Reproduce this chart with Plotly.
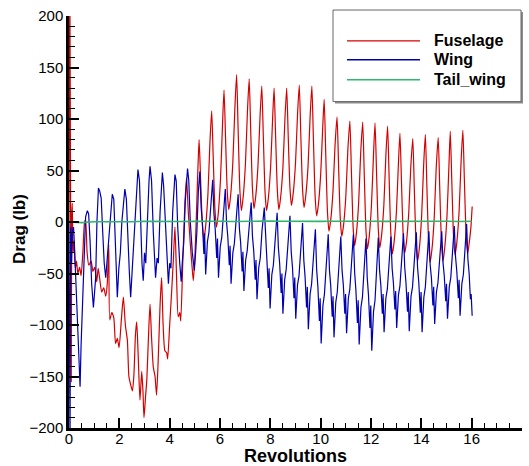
import plotly.graph_objects as go

# ---------------- data ----------------
fuselage_points = [
    (0.00, 0), (0.03, 250), (0.06, 40), (0.09, -155), (0.11, 5), (0.13, 18), (0.16, -30),
    (0.20, -18), (0.25, -45), (0.30, -38), (0.35, -50), (0.42, -44), (0.48, -52), (0.55, -30),
    (0.62, 0), (0.66, 2), (0.72, -30), (0.79, -42), (0.88, -38), (0.95, -48), (1.02, -44),
    (1.10, -58), (1.16, -45), (1.22, -55), (1.30, -68), (1.38, -64), (1.46, -72), (1.52, -60),
    (1.58, -22), (1.62, -95), (1.70, -88), (1.78, -93), (1.85, -118), (1.92, -113), (1.99, -122),
    (2.08, -95), (2.16, -73), (2.24, -100), (2.32, -115), (2.38, -150), (2.45, -158), (2.52, -164),
    (2.58, -148), (2.64, -110), (2.69, -97), (2.75, -130), (2.82, -173), (2.89, -145), (2.94, -165),
    (2.98, -190), (3.04, -170), (3.09, -154), (3.16, -110), (3.22, -80), (3.28, -112), (3.35, -141),
    (3.42, -150), (3.48, -168), (3.55, -130), (3.62, -80), (3.68, -54), (3.74, -100), (3.81, -125),
    (3.88, -127), (3.92, -133), (4.00, -100), (4.08, -67), (4.15, -35), (4.21, -5), (4.27, -50),
    (4.34, -92), (4.40, -88), (4.44, -96), (4.52, -40), (4.60, 15), (4.67, 43), (4.74, 10),
    (4.81, -18), (4.88, -40), (4.94, -57), (5.00, -35), (5.06, 5), (5.12, 50),
    (5.17, 80), (5.23, 41), (5.30, -2), (5.36, -17), (5.43, -4), (5.52, 27), (5.60, 77),
    (5.67, 108), (5.73, 63), (5.80, 12), (5.86, -5), (5.93, 8), (6.02, 42), (6.10, 95),
    (6.16, 128), (6.22, 82), (6.29, 29), (6.35, 12), (6.42, 25), (6.51, 58), (6.59, 110),
    (6.66, 143), (6.72, 90), (6.79, 31), (6.85, 11), (6.92, 24), (7.01, 56), (7.09, 107),
    (7.16, 139), (7.22, 89), (7.29, 32), (7.35, 13), (7.42, 25), (7.51, 55), (7.59, 102),
    (7.66, 132), (7.72, 84), (7.79, 29), (7.85, 11), (7.92, 23), (8.01, 53), (8.09, 100),
    (8.15, 130), (8.21, 83), (8.28, 30), (8.34, 12), (8.41, 24), (8.50, 53), (8.58, 100),
    (8.65, 130), (8.71, 84), (8.78, 33), (8.84, 16), (8.91, 28), (9.00, 57), (9.08, 104),
    (9.15, 133), (9.21, 85), (9.28, 32), (9.34, 14), (9.41, 26), (9.50, 55), (9.58, 102),
    (9.65, 132), (9.71, 82), (9.78, 25), (9.84, 6), (9.91, 17), (10.00, 46), (10.08, 91),
    (10.14, 119), (10.20, 68), (10.27, 10), (10.33, -9), (10.40, 2), (10.49, 30), (10.57, 74),
    (10.65, 102), (10.71, 56), (10.78, 3), (10.84, -14), (10.91, -3), (11.00, 25), (11.08, 70),
    (11.16, 98), (11.22, 50), (11.29, -5), (11.35, -23), (11.42, -11), (11.51, 19), (11.59, 67),
    (11.67, 97), (11.73, 48), (11.80, -8), (11.86, -26), (11.93, -14), (12.02, 17), (12.10, 66),
    (12.16, 96), (12.22, 48), (12.29, -7), (12.35, -25), (12.42, -13), (12.51, 16), (12.59, 64),
    (12.66, 93), (12.72, 43), (12.79, -12), (12.85, -31), (12.92, -19), (13.01, 10), (13.09, 57),
    (13.15, 86), (13.21, 40), (13.28, -13), (13.34, -30), (13.41, -19), (13.50, 9), (13.58, 53),
    (13.66, 81), (13.72, 33), (13.79, -20), (13.85, -38), (13.92, -26), (14.01, 5), (14.09, 54),
    (14.16, 85), (14.22, 35), (14.29, -20), (14.35, -39), (14.42, -27), (14.51, 3), (14.59, 52),
    (14.67, 82), (14.73, 34), (14.80, -20), (14.86, -38), (14.93, -25), (15.02, 6), (15.10, 57),
    (15.15, 88), (15.21, 40), (15.28, -14), (15.34, -32), (15.41, -20), (15.50, 10), (15.58, 59),
    (15.65, 89), (15.71, 41), (15.78, -13), (15.84, -31), (15.91, -19), (15.97, -5), (16.02, 15),
]

wing_points = [
    (0.00, 0), (0.04, -215), (0.07, -5), (0.10, -40), (0.13, -10), (0.18, -5), (0.22, -25),
    (0.28, -60), (0.33, -90), (0.38, -120), (0.44, -160), (0.48, -120), (0.53, -83), (0.60, -28),
    (0.66, 5), (0.73, 11), (0.78, 8), (0.84, -20), (0.90, -60), (0.97, -83), (1.03, -60),
    (1.06, -54), (1.11, 0), (1.17, 33), (1.22, 30), (1.28, 23), (1.34, -10), (1.40, -40),
    (1.46, -54), (1.52, -35), (1.58, -10), (1.64, 5), (1.72, 27), (1.78, 22), (1.84, -20),
    (1.92, -73), (1.98, -45), (2.04, -30), (2.10, 0), (2.16, 20), (2.22, 32), (2.28, 22),
    (2.34, -20), (2.40, -50), (2.45, -73), (2.52, -40), (2.58, -20), (2.66, 20), (2.74, 51),
    (2.80, 40), (2.86, -10), (2.90, -40), (2.95, -57), (3.00, -30), (3.05, -40), (3.12, 10),
    (3.18, 40), (3.22, 54), (3.28, 40), (3.35, -10), (3.40, -40), (3.44, -54), (3.50, -35),
    (3.55, -40), (3.62, 10), (3.68, 40), (3.71, 48), (3.76, 35), (3.82, 0), (3.90, -40),
    (3.95, -60), (4.00, -40), (4.05, -45), (4.12, 10), (4.17, 35), (4.21, 46), (4.26, 40),
    (4.32, -5), (4.40, -40), (4.46, -58), (4.50, -40), (4.56, -20), (4.62, 20), (4.67, 45),
    (4.71, 52), (4.76, 40), (4.82, 0), (4.90, -30), (4.98, -47), (5.03, -30), (5.08, -10),
    (5.14, 30),
    (5.20, 49), (5.25, 14), (5.30, -1), (5.36, -31), (5.39, -11), (5.43, -51), (5.50, -19), (5.56, -10), (5.63, 18),
    (5.71, 41), (5.76, 8), (5.81, -7), (5.87, -35), (5.90, -16), (5.94, -54), (6.01, -24), (6.07, -15), (6.14, 11),
    (6.21, 32), (6.26, 0), (6.31, -14), (6.37, -42), (6.40, -23), (6.44, -60), (6.51, -30), (6.57, -21), (6.64, 5),
    (6.72, 27), (6.77, -6), (6.82, -20), (6.88, -48), (6.91, -29), (6.95, -67), (7.02, -37), (7.08, -28), (7.15, -3),
    (7.24, 19), (7.29, -14), (7.34, -28), (7.40, -56), (7.43, -37), (7.47, -75), (7.54, -44), (7.60, -35), (7.67, -8),
    (7.76, 14), (7.81, -20), (7.86, -35), (7.92, -64), (7.95, -45), (7.99, -84), (8.06, -51), (8.12, -42), (8.19, -14),
    (8.27, 9), (8.32, -25), (8.37, -40), (8.43, -69), (8.46, -50), (8.50, -89), (8.57, -56), (8.63, -46), (8.70, -18),
    (8.78, 6), (8.83, -29), (8.88, -44), (8.94, -74), (8.97, -54), (9.01, -94), (9.08, -61), (9.14, -52), (9.21, -24),
    (9.28, -1), (9.33, -37), (9.38, -53), (9.44, -83), (9.47, -63), (9.51, -104), (9.58, -70), (9.64, -60), (9.71, -31),
    (9.79, -7), (9.84, -46), (9.89, -63), (9.95, -96), (9.98, -74), (10.02, -118), (10.09, -81), (10.15, -70), (10.22, -39),
    (10.30, -12), (10.35, -47), (10.40, -62), (10.46, -92), (10.49, -72), (10.53, -112), (10.60, -78), (10.66, -68), (10.73, -39),
    (10.80, -14), (10.85, -47), (10.90, -61), (10.96, -89), (10.99, -70), (11.03, -108), (11.10, -74), (11.16, -65), (11.23, -36),
    (11.30, -12), (11.35, -49), (11.40, -66), (11.46, -98), (11.49, -76), (11.53, -119), (11.60, -83), (11.66, -73), (11.73, -42),
    (11.80, -16), (11.85, -54), (11.90, -71), (11.96, -103), (11.99, -81), (12.03, -125), (12.10, -87), (12.16, -76), (12.23, -43),
    (12.29, -15), (12.34, -47), (12.39, -61), (12.45, -89), (12.48, -70), (12.52, -107), (12.59, -74), (12.65, -65), (12.72, -37),
    (12.79, -14), (12.84, -45), (12.89, -59), (12.95, -85), (12.98, -67), (13.02, -103), (13.09, -71), (13.15, -62), (13.22, -34),
    (13.29, -11), (13.34, -44), (13.39, -59), (13.45, -87), (13.48, -68), (13.52, -106), (13.59, -72), (13.65, -63), (13.72, -34),
    (13.80, -10), (13.85, -44), (13.90, -59), (13.96, -88), (13.99, -68), (14.03, -107), (14.10, -73), (14.16, -63), (14.23, -34),
    (14.30, -9), (14.35, -41), (14.40, -54), (14.46, -81), (14.49, -63), (14.53, -99), (14.60, -68), (14.66, -59), (14.73, -32),
    (14.81, -9), (14.86, -39), (14.91, -52), (14.97, -77), (15.00, -60), (15.04, -94), (15.11, -63), (15.17, -54), (15.24, -27),
    (15.31, -4), (15.36, -34), (15.41, -48), (15.47, -74), (15.50, -56), (15.54, -91), (15.61, -60), (15.67, -51), (15.74, -24),
    (15.80, -2), (15.85, -36), (15.90, -50), (15.95, -75), (15.98, -70), (16.02, -91),
]

tail_rev = [0.0, 0.5, 1.0, 1.5, 2.0, 2.5, 3.0, 3.5, 4.0, 4.5, 5.0, 5.5, 6.0, 6.5, 7.0, 7.5,
            8.0, 8.5, 9.0, 9.5, 10.0, 10.5, 11.0, 11.5, 12.0, 12.5, 13.0, 13.5, 14.0, 14.5,
            15.0, 15.5, 16.0]
tail_drag = [0.0, -0.6, 0.2, 0.1, 0.5, 0.3, 0.7, 0.4, 0.8, 0.5, 0.6, 0.9, 0.7, 0.5, 0.8, 0.6,
             0.9, 0.7, 0.5, 0.8, 0.6, 0.7, 0.9, 0.5, 0.8, 0.6, 0.7, 0.9, 0.6, 0.8, 0.7, 0.5, 0.7]

series_names = ["Fuselage", "Wing", "Tail_wing"]
series_colors = ["#d40000", "#0000b0", "#2fb56c"]

fus_rev = [p[0] for p in fuselage_points]
fus_drag = [p[1] for p in fuselage_points]
wing_rev = [p[0] for p in wing_points]
wing_drag = [p[1] for p in wing_points]

FONT = "Liberation Sans, Arial, Helvetica, sans-serif"

fig = go.Figure()
fig.add_trace(go.Scatter(x=fus_rev, y=fus_drag, mode="lines", name=series_names[0],
                         line=dict(color=series_colors[0], width=1.2, shape="spline", smoothing=0.6),
                         showlegend=False))
fig.add_trace(go.Scatter(x=wing_rev, y=wing_drag, mode="lines", name=series_names[1],
                         line=dict(color=series_colors[1], width=1.2),
                         showlegend=False))
fig.add_trace(go.Scatter(x=tail_rev, y=tail_drag, mode="lines", name=series_names[2],
                         line=dict(color=series_colors[2], width=1.6),
                         showlegend=False))

# plot area: x 69..522 px, y 14..428 px
L, R, T, B = 69, 7, 14, 38
W, H = 529, 466
pw, ph = W - L - R, H - T - B


def px2paper(px, py):
    return (px - L) / pw, (H - B - py) / ph


fig.update_layout(
    width=W, height=H,
    margin=dict(l=L, r=R, t=T, b=B),
    paper_bgcolor="white", plot_bgcolor="white",
    font=dict(family=FONT, size=15, color="black"),
    showlegend=False,
)
fig.update_xaxes(
    range=[0, 18], dtick=2, tick0=0, showgrid=False, zeroline=False,
    showline=True, linecolor="black", linewidth=2.5,
    ticks="inside", ticklen=10, tickwidth=2, tickcolor="black",
    minor=dict(ticks="inside", ticklen=5, tickwidth=1, tickcolor="black", dtick=0.5),
    tickfont=dict(size=15, family=FONT), ticklabelstandoff=-5,
)
fig.update_yaxes(
    range=[-200, 200], dtick=50, tick0=0, showgrid=False, zeroline=False,
    showline=True, linecolor="black", linewidth=2.5,
    ticks="inside", ticklen=10, tickwidth=2, tickcolor="black",
    minor=dict(ticks="inside", ticklen=6, tickwidth=1, tickcolor="black", dtick=10),
    tickfont=dict(size=15, family=FONT),
)

annotations = []
xt, yt = px2paper(295.5, 456)
annotations.append(dict(x=0.5, y=yt, xref="paper", yref="paper", text="<b>Revolutions</b>",
                        showarrow=False, font=dict(size=18, family=FONT), xanchor="center", yanchor="middle"))
xt, yt = px2paper(20, 228)
annotations.append(dict(x=xt, y=yt, xref="paper", yref="paper", text="<b>Drag (lb)</b>",
                        showarrow=False, font=dict(size=17, family=FONT), textangle=-90,
                        xanchor="center", yanchor="middle"))

shapes = []
# legend box with shadow
x0, y0 = px2paper(335, 10)
x1, y1 = px2paper(523, 102)
shapes.append(dict(type="rect", xref="paper", yref="paper", x0=x0, y0=y0, x1=x1, y1=y1,
                   line=dict(width=0), fillcolor="#8c8c8c", layer="above"))
x0, y0 = px2paper(333, 8)
x1, y1 = px2paper(521, 100)
shapes.append(dict(type="rect", xref="paper", yref="paper", x0=x0, y0=y0, x1=x1, y1=y1,
                   line=dict(width=1, color="#666666"), fillcolor="white", layer="above"))
legend_rows = [39, 58, 78]
for name, color, py in zip(series_names, series_colors, legend_rows):
    lx0, ly = px2paper(347, py)
    lx1, _ = px2paper(420, py)
    shapes.append(dict(type="line", xref="paper", yref="paper", x0=lx0, y0=ly, x1=lx1, y1=ly,
                       line=dict(color=color, width=1.4), layer="above"))
    tx, _ = px2paper(432, py)
    annotations.append(dict(x=tx, y=ly, xref="paper", yref="paper", text="<b>%s</b>" % name,
                            showarrow=False, font=dict(size=16, family=FONT),
                            xanchor="left", yanchor="middle"))

fig.update_layout(shapes=shapes, annotations=annotations)
fig.write_html("out.html")
